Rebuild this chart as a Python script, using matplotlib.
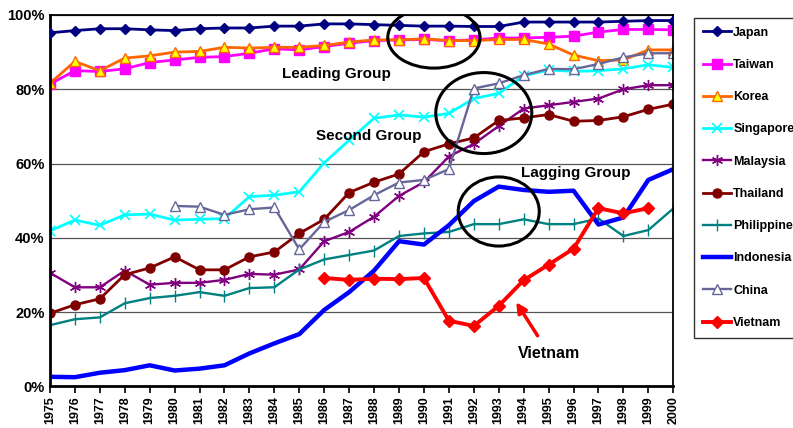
import numpy as np
import matplotlib.pyplot as plt
from matplotlib.patches import Ellipse

plt.rcParams['font.family'] = ['Liberation Sans', 'DejaVu Sans']
plt.rcParams['font.weight'] = 'bold'

years = np.arange(1975, 2001)
nan = np.nan

japan = [95.2, 95.8, 96.3, 96.3, 96.0, 95.8, 96.3, 96.5, 96.5, 97.0, 97.0, 97.6, 97.6,
         97.4, 97.2, 97.0, 97.0, 96.9, 96.9, 98.1, 98.1, 98.1, 98.1, 98.3, 98.5, 98.5]
taiwan = [81.4, 85.0, 84.8, 85.5, 87.2, 87.9, 88.6, 88.8, 89.7, 90.9, 90.6, 91.5, 92.4,
          93.1, 93.3, 93.4, 93.1, 93.3, 93.8, 93.8, 94.0, 94.3, 95.4, 96.1, 96.1, 96.0]
korea = [81.6, 87.5, 85.0, 88.4, 89.0, 90.0, 90.2, 91.3, 91.1, 91.3, 91.3, 91.8, 92.7,
         93.3, 93.3, 93.6, 93.1, 93.1, 93.4, 93.4, 92.2, 89.2, 87.7, 87.9, 90.6, 90.6]
singapore = [41.9, 44.8, 43.4, 46.2, 46.4, 44.8, 45.0, 45.2, 51.1, 51.5, 52.4, 60.2, 66.3,
             72.2, 73.1, 72.5, 73.5, 77.5, 78.9, 83.6, 85.2, 84.8, 85.0, 85.5, 86.6, 85.9]
malaysia = [30.6, 26.7, 26.7, 31.2, 27.4, 27.9, 27.9, 28.7, 30.3, 30.1, 31.5, 39.1, 41.6,
            45.7, 51.3, 55.0, 61.9, 65.3, 70.1, 74.8, 75.7, 76.6, 77.5, 80.0, 81.1, 81.1]
thailand = [19.7, 22.0, 23.6, 30.1, 31.9, 34.9, 31.4, 31.4, 34.9, 36.2, 41.2, 45.0, 52.2,
            55.0, 57.2, 63.2, 65.3, 66.9, 71.6, 72.3, 73.2, 71.4, 71.6, 72.6, 74.6, 76.0]
philippines = [16.5, 18.1, 18.6, 22.4, 23.8, 24.4, 25.4, 24.4, 26.5, 26.7, 31.5, 34.2, 35.4,
               36.6, 40.5, 41.2, 41.6, 43.7, 43.7, 45.0, 43.7, 43.7, 45.2, 40.5, 42.1, 47.9]
indonesia = [2.6, 2.5, 3.7, 4.4, 5.7, 4.3, 4.8, 5.7, 8.9, 11.6, 14.1, 20.6, 25.4,
             31.2, 39.1, 38.2, 43.4, 49.9, 53.8, 52.9, 52.4, 52.7, 43.6, 45.5, 55.6, 58.5]
china = [nan, nan, nan, nan, nan, 48.6, 48.4, 46.2, 47.7, 48.2, 36.9, 44.3, 47.5,
         51.5, 54.9, 55.6, 58.5, 80.2, 81.6, 83.8, 85.5, 85.4, 86.8, 88.6, 89.7, 89.7]
vietnam = [nan, nan, nan, nan, nan, nan, nan, nan, nan, nan, nan, 29.2, 28.7,
           29.0, 28.9, 29.2, 17.7, 16.3, 21.7, 28.6, 32.8, 37.1, 48.0, 46.6, 48.0, nan]

fig = plt.figure(figsize=(7.93, 4.28), dpi=100)
ax = fig.add_axes([0.063, 0.097, 0.786, 0.868])

ax.plot(years, japan, color='#000080', lw=2, marker='D', ms=5, label='Japan', zorder=5)
ax.plot(years, taiwan, color='#FF00FF', lw=2, marker='s', ms=6.5, label='Taiwan')
ax.plot(years, korea, color='#FF6600', lw=2, marker='^', ms=7, mfc='#FFFF00',
        mec='#FF6600', mew=1, label='Korea')
ax.plot(years, singapore, color='#00FFFF', lw=2, marker='x', ms=7, mew=1.2, label='Singapore')
ax.plot(years, malaysia, color='#800080', lw=1.7, marker=(6, 2, 0), ms=8, mew=1,
        label='Malaysia')
ax.plot(years, thailand, color='#800000', lw=2, marker='o', ms=6.5, label='Thailand')
ax.plot(years, philippines, color='#008080', lw=1.7, marker='|', ms=8, mew=1,
        label='Philippines')
ax.plot(years, indonesia, color='#0000FF', lw=3.2, label='Indonesia')
ax.plot(years, china, color='#666699', lw=1.7, marker='^', ms=7, mfc='white',
        mec='#666699', mew=1, label='China')
ax.plot(years, vietnam, color='#FF0000', lw=2.8, marker='D', ms=6.5, label='Vietnam')

ax.set_xlim(1975, 2000)
ax.set_ylim(0, 100)
ax.set_xticks(years)
ax.set_xticklabels([str(y) for y in years], rotation=90, fontsize=9, fontweight='bold')
ax.set_yticks([0, 20, 40, 60, 80, 100])
ax.set_yticklabels(['0%', '20%', '40%', '60%', '80%', '100%'], fontsize=10.5,
                   fontweight='bold')
ax.tick_params(axis='y', length=0, pad=4)
ax.tick_params(axis='x', direction='out', length=5, width=1.2, pad=2)
ax.grid(axis='y', color='#555555', lw=0.9)
ax.set_axisbelow(True)
for side in ['left', 'bottom']:
    ax.spines[side].set_linewidth(2)
for side in ['top', 'right']:
    ax.spines[side].set_linewidth(1.3)

# circled regions and group labels
for cx, cy, w, h in [(1990.4, 93.9, 3.7, 16.4), (1992.4, 73.6, 3.85, 21.8),
                     (1993.0, 47.1, 3.25, 18.6)]:
    ax.add_patch(Ellipse((cx, cy), w, h, fill=False, ec='black', lw=2.2, zorder=6))

ax.text(1986.5, 84.0, 'Leading Group', fontsize=11, fontweight='bold', ha='center', va='center')
ax.text(1987.8, 67.5, 'Second Group', fontsize=11, fontweight='bold', ha='center', va='center')
ax.text(1996.1, 57.5, 'Lagging Group', fontsize=11, fontweight='bold', ha='center', va='center')
ax.annotate('Vietnam', xy=(1993.7, 22.7), xytext=(1995.0, 9.0), fontsize=11.5,
            fontweight='bold', ha='center', va='center',
            arrowprops=dict(arrowstyle='-|>', color='#FF0000', lw=2.5,
                            mutation_scale=15, shrinkA=6, shrinkB=0))

leg = fig.legend(loc='upper left', bbox_to_anchor=(0.875, 0.958),
                 prop={'weight': 'bold', 'size': 9}, frameon=True, fancybox=False,
                 edgecolor='black', handlelength=2.3, handletextpad=0.15,
                 labelspacing=1.62, borderpad=0.7, borderaxespad=0)
leg.get_frame().set_linewidth(1)

fig.savefig('out.png', dpi=100)
